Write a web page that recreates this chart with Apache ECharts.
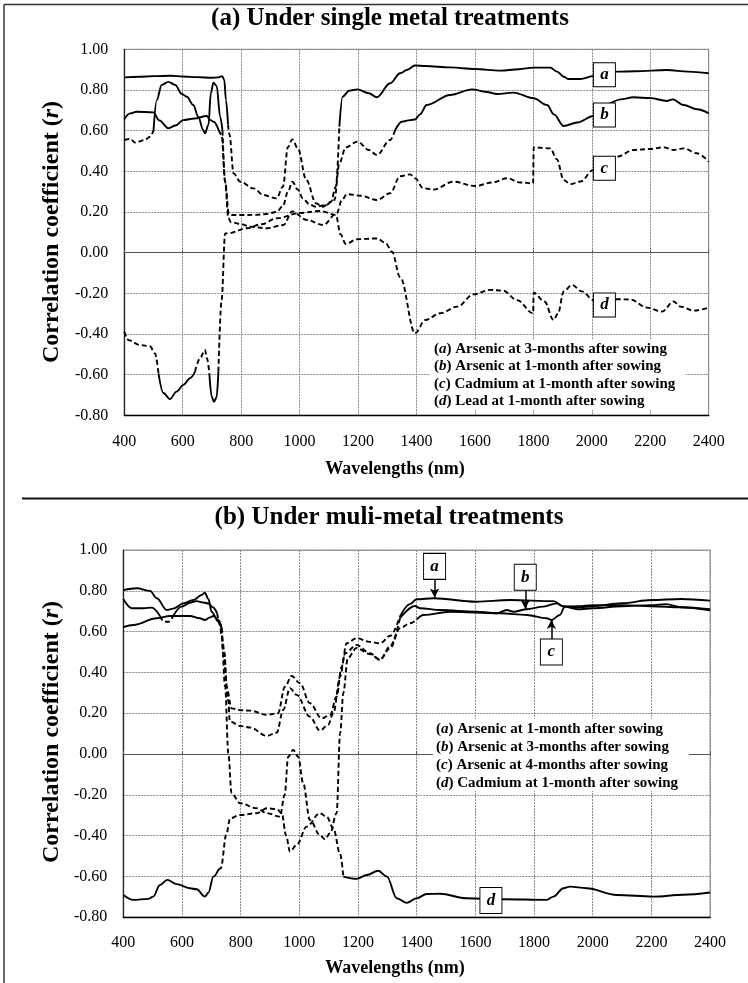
<!DOCTYPE html>
<html>
<head>
<meta charset="utf-8">
<script src="https://cdn.jsdelivr.net/npm/echarts/dist/echarts.min.js"></script>
<style>
  html, body { margin: 0; padding: 0; background: #fff; }
  #chart { width: 748px; height: 983px; }
</style>
</head>
<body>
<div id="chart"></div>
<script>
// ---------- (a) single metal treatments ----------
const singleA_nm = [400, 450, 500, 560, 600, 650, 700, 720, 735, 742, 748, 755, 760, 774, 797, 842, 876, 921, 943, 960, 975, 994, 1023, 1056, 1079, 1107, 1124, 1136, 1147, 1170, 1198, 1237, 1264, 1310, 1344, 1367, 1395, 1430, 1515, 1600, 1687, 1750, 1800, 1858, 1881, 1904, 1919, 1961, 2005, 2040, 2086, 2150, 2257, 2330, 2400];
const singleA_r  = [0.862, 0.865, 0.868, 0.870, 0.866, 0.863, 0.860, 0.862, 0.868, 0.850, 0.750, 0.630, 0.580, 0.390, 0.349, 0.316, 0.284, 0.267, 0.325, 0.520, 0.557, 0.513, 0.357, 0.243, 0.226, 0.250, 0.325, 0.620, 0.767, 0.797, 0.803, 0.784, 0.764, 0.833, 0.882, 0.898, 0.920, 0.918, 0.911, 0.903, 0.895, 0.902, 0.910, 0.910, 0.890, 0.865, 0.854, 0.854, 0.868, 0.875, 0.890, 0.892, 0.898, 0.890, 0.882];

const singleB_nm = [400, 420, 442, 499, 520, 551, 575, 602, 640, 682, 695, 706, 723, 733, 745, 758, 770, 800, 850, 887, 921, 943, 960, 975, 994, 1011, 1036, 1056, 1090, 1119, 1136, 1158, 1198, 1237, 1264, 1310, 1327, 1350, 1378, 1395, 1412, 1435, 1515, 1590, 1640, 1675, 1732, 1801, 1847, 1870, 1904, 1950, 2006, 2050, 2098, 2143, 2200, 2257, 2277, 2314, 2360, 2400];
const singleB_r  = [0.656, 0.685, 0.693, 0.690, 0.650, 0.612, 0.625, 0.652, 0.660, 0.672, 0.652, 0.644, 0.603, 0.580, 0.350, 0.190, 0.185, 0.185, 0.186, 0.190, 0.200, 0.230, 0.300, 0.349, 0.310, 0.267, 0.235, 0.226, 0.235, 0.259, 0.440, 0.518, 0.546, 0.505, 0.480, 0.554, 0.603, 0.644, 0.652, 0.655, 0.680, 0.726, 0.775, 0.803, 0.790, 0.780, 0.787, 0.759, 0.726, 0.680, 0.623, 0.640, 0.672, 0.730, 0.754, 0.764, 0.760, 0.746, 0.754, 0.726, 0.705, 0.685];

const singleC_nm = [400, 420, 437, 470, 488, 500, 511, 528, 551, 574, 597, 614, 636, 653, 670, 676, 688, 696, 705, 716, 728, 736, 745, 756, 765, 800, 830, 888, 945, 975, 1024, 1081, 1127, 1145, 1162, 1209, 1264, 1310, 1344, 1378, 1395, 1423, 1458, 1526, 1601, 1660, 1710, 1755, 1799, 1801, 1858, 1880, 1904, 1927, 1961, 2006, 2050, 2086, 2143, 2200, 2246, 2280, 2314, 2360, 2400];
const singleC_r  = [0.554, 0.560, 0.541, 0.554, 0.570, 0.600, 0.750, 0.825, 0.840, 0.825, 0.780, 0.767, 0.726, 0.669, 0.603, 0.587, 0.628, 0.783, 0.836, 0.820, 0.669, 0.600, 0.350, 0.170, 0.150, 0.140, 0.128, 0.120, 0.136, 0.203, 0.161, 0.136, 0.194, 0.260, 0.288, 0.280, 0.259, 0.292, 0.376, 0.385, 0.366, 0.317, 0.310, 0.349, 0.328, 0.345, 0.366, 0.345, 0.341, 0.518, 0.513, 0.460, 0.357, 0.337, 0.350, 0.407, 0.440, 0.472, 0.505, 0.510, 0.518, 0.505, 0.513, 0.489, 0.447];

const singleD_nm = [400, 414, 454, 488, 505, 517, 534, 556, 579, 602, 625, 642, 659, 676, 683, 691, 699, 707, 716, 722, 733, 745, 756, 819, 870, 922, 1000, 1070, 1124, 1140, 1158, 1196, 1264, 1293, 1316, 1344, 1395, 1430, 1481, 1540, 1595, 1652, 1697, 1744, 1799, 1801, 1838, 1869, 1884, 1904, 1932, 1966, 2006, 2050, 2092, 2132, 2189, 2240, 2280, 2303, 2349, 2400];
const singleD_r  = [-0.388, -0.430, -0.454, -0.460, -0.495, -0.593, -0.690, -0.720, -0.683, -0.650, -0.617, -0.585, -0.520, -0.478, -0.520, -0.593, -0.708, -0.733, -0.710, -0.585, -0.232, 0.095, 0.095, 0.120, 0.140, 0.169, 0.195, 0.205, 0.186, 0.090, 0.043, 0.066, 0.070, 0.050, 0.005, -0.120, -0.396, -0.331, -0.298, -0.265, -0.205, -0.183, -0.187, -0.233, -0.298, -0.197, -0.240, -0.331, -0.300, -0.190, -0.159, -0.190, -0.233, -0.230, -0.229, -0.230, -0.270, -0.290, -0.240, -0.265, -0.285, -0.270];

// ---------- (b) multi-metal treatments ----------
const multiA_nm = [400, 446, 491, 514, 548, 570, 605, 639, 667, 678, 690, 701, 724, 735, 745, 752, 769, 800, 832, 889, 927, 951, 974, 1002, 1036, 1076, 1105, 1127, 1144, 1161, 1195, 1240, 1275, 1310, 1343, 1377, 1400, 1457, 1604, 1718, 1866, 1900, 1950, 2000, 2100, 2200, 2300, 2400];
const multiA_r  = [0.804, 0.813, 0.800, 0.764, 0.706, 0.713, 0.739, 0.755, 0.780, 0.791, 0.760, 0.698, 0.649, 0.617, 0.500, 0.330, 0.224, 0.215, 0.213, 0.192, 0.200, 0.330, 0.383, 0.347, 0.249, 0.175, 0.192, 0.281, 0.428, 0.543, 0.568, 0.550, 0.543, 0.580, 0.675, 0.735, 0.759, 0.764, 0.747, 0.755, 0.750, 0.725, 0.720, 0.725, 0.740, 0.755, 0.760, 0.752];

const multiB_nm = [400, 434, 514, 559, 627, 661, 678, 695, 707, 724, 735, 741, 758, 763, 798, 832, 889, 923, 945, 968, 991, 1036, 1070, 1098, 1116, 1139, 1156, 1195, 1241, 1275, 1310, 1343, 1394, 1412, 1480, 1604, 1673, 1707, 1730, 1775, 1832, 1877, 1900, 1950, 2000, 2100, 2200, 2250, 2300, 2400];
const multiB_r  = [0.622, 0.633, 0.666, 0.677, 0.677, 0.666, 0.657, 0.670, 0.677, 0.657, 0.620, 0.490, 0.260, 0.160, 0.138, 0.130, 0.089, 0.105, 0.216, 0.323, 0.290, 0.183, 0.115, 0.143, 0.200, 0.380, 0.494, 0.535, 0.494, 0.461, 0.530, 0.666, 0.726, 0.715, 0.706, 0.698, 0.690, 0.706, 0.698, 0.710, 0.723, 0.739, 0.723, 0.710, 0.715, 0.725, 0.730, 0.735, 0.720, 0.705];

const multiC_nm = [400, 429, 470, 497, 525, 539, 555, 570, 599, 627, 650, 673, 690, 705, 720, 730, 735, 747, 758, 769, 798, 855, 889, 934, 950, 962, 979, 996, 1013, 1036, 1070, 1087, 1105, 1127, 1139, 1150, 1165, 1195, 1240, 1275, 1310, 1343, 1377, 1400, 1423, 1514, 1684, 1775, 1843, 1860, 1888, 1905, 1950, 2000, 2100, 2200, 2300, 2400];
const multiC_r  = [0.760, 0.715, 0.715, 0.718, 0.677, 0.649, 0.649, 0.677, 0.723, 0.742, 0.750, 0.743, 0.738, 0.720, 0.690, 0.630, 0.576, 0.330, 0.004, -0.192, -0.241, -0.266, -0.290, -0.307, -0.200, -0.013, 0.020, -0.013, -0.143, -0.323, -0.397, -0.418, -0.388, -0.290, 0.102, 0.300, 0.470, 0.520, 0.490, 0.465, 0.520, 0.617, 0.641, 0.660, 0.682, 0.698, 0.690, 0.682, 0.666, 0.658, 0.682, 0.723, 0.725, 0.730, 0.730, 0.725, 0.720, 0.710];

const multiD_nm = [400, 434, 485, 502, 525, 550, 582, 627, 650, 678, 690, 707, 724, 732, 752, 764, 798, 855, 889, 923, 940, 955, 968, 991, 1025, 1070, 1093, 1116, 1139, 1150, 1196, 1230, 1269, 1298, 1332, 1366, 1400, 1434, 1479, 1570, 1695, 1843, 1866, 1900, 1922, 1979, 2082, 2206, 2309, 2400];
const multiD_r  = [-0.691, -0.715, -0.710, -0.699, -0.642, -0.617, -0.638, -0.658, -0.663, -0.699, -0.680, -0.601, -0.568, -0.560, -0.388, -0.315, -0.299, -0.290, -0.266, -0.270, -0.290, -0.400, -0.478, -0.446, -0.356, -0.290, -0.307, -0.364, -0.490, -0.601, -0.612, -0.593, -0.572, -0.600, -0.707, -0.730, -0.707, -0.686, -0.685, -0.707, -0.712, -0.715, -0.699, -0.658, -0.650, -0.658, -0.691, -0.699, -0.690, -0.679];

// |r| at or above a series' threshold is drawn solid, below it dashed
const singleThresholds = [0.6, 0.6, 0.58, 0.58];
const multiThresholds  = [0.6, 0.6, 0.655, 0.565];

const xTicks = { min: 400, max: 2400, step: 200 };
const yTicks = { min: -0.8, max: 1.0, step: 0.2 };

const singleLegend = [
  ['a', ' Arsenic at 3-months after sowing'],
  ['b', ' Arsenic at 1-month after sowing'],
  ['c', ' Cadmium at 1-month after sowing'],
  ['d', ' Lead at 1-month after sowing']
];
const multiLegend = [
  ['a', ' Arsenic at 1-month after sowing'],
  ['b', ' Arsenic at 3-months after sowing'],
  ['c', ' Arsenic at 4-months after sowing'],
  ['d', ' Cadmium at 1-month after sowing']
];

const SERIF = "'Liberation Serif', 'Times New Roman', serif";

// Split one curve into a solid part (significant) and a dashed part (the rest,
// plus the neighbouring points so both parts join up).
function splitCurve(nm, r, thr) {
  const sig = r.map(v => Math.abs(v) >= thr);
  const solid = nm.map((x, i) => [x, sig[i] ? r[i] : '-']);
  const dashed = nm.map((x, i) => {
    const keep = !sig[i] || (i > 0 && !sig[i - 1]) || (i < r.length - 1 && !sig[i + 1]);
    return [x, keep ? r[i] : '-'];
  });
  return { solid, dashed };
}

function curveSeries(nm, r, thr, g) {
  const parts = splitCurve(nm, r, thr);
  const base = {
    type: 'line', xAxisIndex: g * 2, yAxisIndex: g, showSymbol: false, symbol: 'none',
    smooth: 0.35, smoothMonotone: 'x', connectNulls: false, silent: true, z: 3
  };
  return [
    Object.assign({}, base, { data: parts.dashed, lineStyle: { color: '#000', width: 1.9, type: [5, 3] } }),
    Object.assign({}, base, { data: parts.solid, lineStyle: { color: '#000', width: 1.9, type: 'solid' } })
  ];
}

function boxMark(letter, coord, h) {
  return {
    coord: coord, symbol: 'rect', symbolSize: [22, h],
    itemStyle: { color: '#fff', borderColor: '#000', borderWidth: 1 },
    label: { show: true, position: 'inside', formatter: letter, color: '#000',
             fontFamily: SERIF, fontSize: 17, fontStyle: 'italic', fontWeight: 'bold' }
  };
}

function arrowLine(from, to) {
  return [{ coord: from }, { coord: to }];
}

const grids = [
  { left: 124.3, top: 49.3, width: 584.4, height: 366.1 },
  { left: 123.3, top: 550.1, width: 586.8, height: 367.1 }
];

const xAxes = [], yAxes = [];
grids.forEach((gr, g) => {
  xAxes.push({
    type: 'value', gridIndex: g, min: xTicks.min, max: xTicks.max, interval: xTicks.step,
    axisLine: { show: true, onZero: false, lineStyle: { color: '#000', width: 1.3 } },
    axisTick: { show: false },
    axisLabel: { color: '#000', fontFamily: SERIF, fontSize: 16, margin: 18,
                 formatter: v => String(Math.round(v)) },
    splitLine: { show: true, lineStyle: { color: '#8a8a8a', width: 1, type: [2, 1] } }
  });
  // zero line with small crossing marks
  xAxes.push({
    type: 'value', gridIndex: g, min: xTicks.min, max: xTicks.max, interval: xTicks.step,
    position: 'top',
    axisLine: { show: true, onZero: true, lineStyle: { color: '#555', width: 1.2 } },
    axisTick: { show: true, length: 3, lineStyle: { color: '#555' } },
    axisLabel: { show: false }, splitLine: { show: false }
  });
  yAxes.push({
    type: 'value', gridIndex: g, min: yTicks.min, max: yTicks.max, interval: yTicks.step,
    axisLine: { show: true, onZero: false, lineStyle: { color: '#222', width: 1.3 } },
    axisTick: { show: false },
    axisLabel: { color: '#000', fontFamily: SERIF, fontSize: 16, margin: 16,
                 formatter: v => (Math.abs(v) < 1e-9 ? 0 : v).toFixed(2) },
    splitLine: { show: true, lineStyle: { color: '#8a8a8a', width: 1, type: [2, 1] } }
  });
});

const series = [];
[[singleA_nm, singleA_r], [singleB_nm, singleB_r], [singleC_nm, singleC_r], [singleD_nm, singleD_r]]
  .forEach((c, i) => series.push(...curveSeries(c[0], c[1], singleThresholds[i], 0)));
[[multiA_nm, multiA_r], [multiB_nm, multiB_r], [multiC_nm, multiC_r], [multiD_nm, multiD_r]]
  .forEach((c, i) => series.push(...curveSeries(c[0], c[1], multiThresholds[i], 1)));

// curve labels (boxes and arrows)
series.push({
  type: 'line', xAxisIndex: 0, yAxisIndex: 0, data: [], z: 10, silent: true,
  markPoint: { silent: true, animation: false, data: [
    boxMark('a', [2043, 0.875], 24), boxMark('b', [2043, 0.677], 24),
    boxMark('c', [2043, 0.415], 24), boxMark('d', [2043, -0.257], 24)
  ] }
});
series.push({
  type: 'line', xAxisIndex: 2, yAxisIndex: 1, data: [], z: 10, silent: true,
  markLine: { silent: true, animation: false, symbol: ['none', 'arrow'], symbolSize: [7, 9],
    label: { show: false },
    lineStyle: { color: '#000', width: 1.5, type: 'solid' },
    data: [
      arrowLine([1461, 0.856], [1461, 0.768]),
      arrowLine([1770, 0.803], [1770, 0.712]),
      arrowLine([1859, 0.563], [1859, 0.657])
    ] },
  markPoint: { silent: true, animation: false, data: [
    boxMark('a', [1461, 0.920], 26), boxMark('b', [1770, 0.867], 26),
    boxMark('c', [1859, 0.500], 26), boxMark('d', [1653, -0.718], 26)
  ] }
});

function legendBlock(lines, x, y0, dy, rect) {
  const items = [{
    type: 'rect', z: 30, shape: rect, style: { fill: '#fff' }
  }];
  lines.forEach((ln, i) => {
    items.push({
      type: 'text', z: 31, x: x, y: y0 + i * dy,
      style: {
        text: '({i|' + ln[0] + '})' + ln[1],
        font: 'bold 15px ' + SERIF, fill: '#000', textVerticalAlign: 'middle',
        rich: { i: { fontStyle: 'italic', fontWeight: 'bold', fontSize: 15, fontFamily: SERIF } }
      }
    });
  });
  return items;
}

function centerText(text, x, y, size, rotate, rich) {
  return {
    type: 'text', x: x, y: y, rotation: rotate || 0, z: 30,
    style: { text: text, font: 'bold ' + size + 'px ' + SERIF, fill: '#000',
             textAlign: 'center', textVerticalAlign: 'middle', rich: rich || {} }
  };
}

const italicR = { r: { fontStyle: 'italic', fontWeight: 'bold', fontSize: 24, fontFamily: SERIF } };

const chart = echarts.init(document.getElementById('chart'), null, { renderer: 'canvas' });
chart.setOption({
  animation: false,
  backgroundColor: '#fff',
  grid: grids.map(g => Object.assign({ show: true, borderColor: '#808080', borderWidth: 1,
                                       backgroundColor: 'transparent', containLabel: false,
                                       outerBoundsMode: 'none' }, g)),
  xAxis: xAxes,
  yAxis: yAxes,
  series: series,
  graphic: [
    // outer frame and separator
    { type: 'line', z: 30, shape: { x1: 4, y1: 4.5, x2: 748, y2: 4.5 }, style: { stroke: '#333', lineWidth: 1.5 } },
    { type: 'line', z: 30, shape: { x1: 4, y1: 4.5, x2: 4, y2: 983 }, style: { stroke: '#333', lineWidth: 1.5 } },
    { type: 'line', z: 30, shape: { x1: 22, y1: 498.5, x2: 748, y2: 498.5 }, style: { stroke: '#111', lineWidth: 2 } },
    centerText('(a) Under single metal treatments', 390, 19, 25),
    centerText('(b) Under muli-metal treatments', 389, 518, 25),
    centerText('Wavelengths (nm)', 395, 469, 18),
    centerText('Wavelengths (nm)', 395, 968, 18),
    centerText('Correlation coefficient ({r|r})', 52, 232, 24, Math.PI / 2, italicR),
    centerText('Correlation coefficient ({r|r})', 52, 732, 24, Math.PI / 2, italicR)
  ].concat(
    legendBlock(singleLegend, 434, 349, 17.5, { x: 430, y: 340, width: 256, height: 70 }),
    legendBlock(multiLegend, 436, 729.5, 17.8, { x: 433, y: 719, width: 256, height: 72 })
  )
});
</script>
</body>
</html>
